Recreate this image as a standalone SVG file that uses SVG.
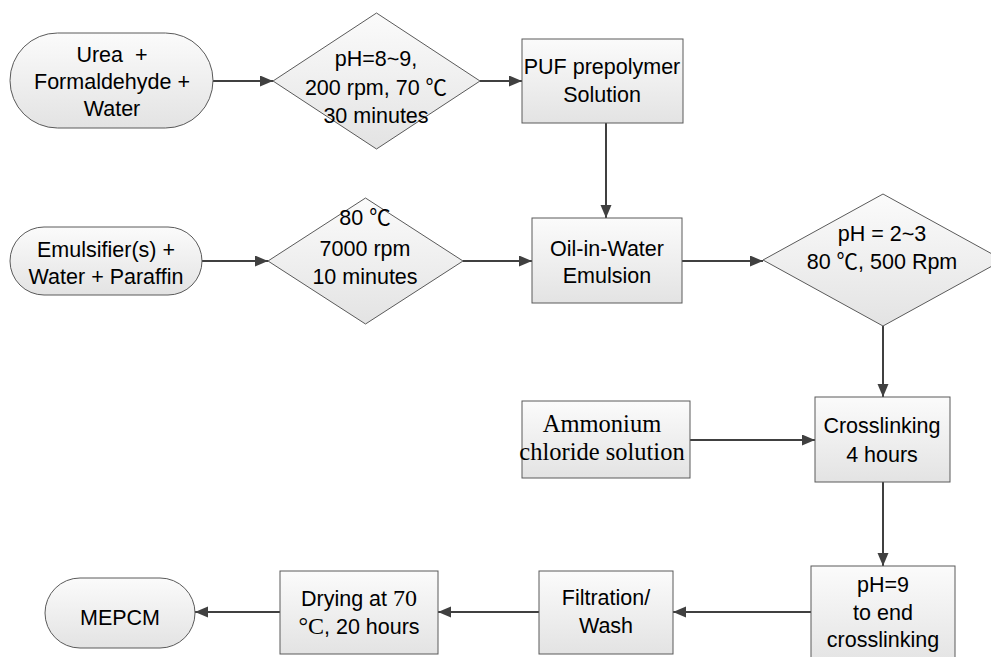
<svg xmlns="http://www.w3.org/2000/svg" width="991" height="657" viewBox="0 0 991 657">
<defs>
<linearGradient id="g" x1="0" y1="0" x2="0" y2="1">
<stop offset="0" stop-color="#fbfbfb"/>
<stop offset="1" stop-color="#e3e3e3"/>
</linearGradient>
<marker id="ah" markerUnits="userSpaceOnUse" markerWidth="14" markerHeight="12" refX="13" refY="5.5" orient="auto">
<path d="M0,0 L13,5.5 L0,11 z" fill="#404040"/>
</marker>
</defs>
<style>
.s{fill:url(#g);stroke:#5a5a5a;stroke-width:1}
.t{font-family:"Liberation Sans","Noto Sans CJK SC",sans-serif;font-size:21.5px;fill:#000;text-anchor:middle}
.r{font-family:"Liberation Serif","Noto Serif CJK SC",serif}
.c{stroke:#404040;stroke-width:2;fill:none;marker-end:url(#ah)}
</style>
<rect width="991" height="657" fill="#fff"/>
<g id="connectors">
<line class="c" x1="213" y1="81" x2="273" y2="81"/>
<line class="c" x1="480" y1="81" x2="522" y2="81"/>
<line class="c" x1="606" y1="123" x2="606" y2="218"/>
<line class="c" x1="202" y1="261" x2="268" y2="261"/>
<line class="c" x1="463" y1="261" x2="532" y2="261"/>
<line class="c" x1="682" y1="261" x2="763" y2="261"/>
<line class="c" x1="883" y1="326" x2="883" y2="397"/>
<line class="c" x1="690" y1="440" x2="815" y2="440"/>
<line class="c" x1="883" y1="482" x2="883" y2="566"/>
<line class="c" x1="811" y1="612" x2="673" y2="612"/>
<line class="c" x1="539" y1="612" x2="438" y2="612"/>
<line class="c" x1="280" y1="612" x2="195" y2="612"/>
</g>
<g id="urea">
<rect class="s" x="10" y="33" width="203" height="95" rx="47.5" ry="47.5"/>
<text class="t" x="112" y="62" xml:space="preserve">Urea  +</text>
<text class="t" x="112" y="89">Formaldehyde +</text>
<text class="t" x="112" y="116">Water</text>
</g>
<g id="cond1">
<polygon class="s" points="376.5,13 480,81 376.5,149 273,81"/>
<text class="t" x="376" y="66">pH=8~9,</text>
<text class="t" x="376" y="95">200 rpm, 70 ℃</text>
<text class="t" x="376" y="123">30 minutes</text>
</g>
<g id="puf">
<rect class="s" x="522" y="39" width="161" height="84"/>
<text class="t" x="602" y="74">PUF prepolymer</text>
<text class="t" x="602" y="102">Solution</text>
</g>
<g id="emulsifier">
<rect class="s" x="10" y="227" width="192" height="68" rx="34" ry="34"/>
<text class="t" x="106" y="257">Emulsifier(s) +</text>
<text class="t" x="106" y="284">Water + Paraffin</text>
</g>
<g id="cond2">
<polygon class="s" points="365.5,198 463,261 365.5,324 268,261"/>
<text class="t" x="365" y="225">80 ℃</text>
<text class="t" x="365" y="256">7000 rpm</text>
<text class="t" x="365" y="284">10 minutes</text>
</g>
<g id="emulsion">
<rect class="s" x="532" y="218" width="150" height="85"/>
<text class="t" x="607" y="256">Oil-in-Water</text>
<text class="t" x="607" y="283">Emulsion</text>
</g>
<g id="cond3">
<polygon class="s" points="883,194 1003,260 883,326 763,260"/>
<text class="t" x="882" y="241">pH = 2~3</text>
<text class="t" x="882" y="269">80 ℃, 500 Rpm</text>
</g>
<g id="ammonium">
<rect class="s" x="522" y="401" width="168" height="77"/>
<text class="t r" x="602" y="432" style="font-size:24.5px">Ammonium</text>
<text class="t r" x="602" y="460" style="font-size:24.5px">chloride solution</text>
</g>
<g id="crosslinking">
<rect class="s" x="815" y="397" width="135" height="85"/>
<text class="t" x="882" y="433">Crosslinking</text>
<text class="t" x="882" y="462">4 hours</text>
</g>
<g id="ph9">
<rect class="s" x="811" y="566" width="144" height="100"/>
<text class="t" x="883" y="592">pH=9</text>
<text class="t" x="883" y="620">to end</text>
<text class="t" x="883" y="647">crosslinking</text>
</g>
<g id="filtration">
<rect class="s" x="539" y="571" width="134" height="83"/>
<text class="t" x="606" y="605">Filtration/</text>
<text class="t" x="606" y="633">Wash</text>
</g>
<g id="drying">
<rect class="s" x="280" y="571" width="158" height="83"/>
<text class="t" x="359" y="606">Drying at <tspan class="r" style="font-size:24px">70</tspan></text>
<text class="t" x="359" y="634"><tspan class="r" style="font-size:24px">°C</tspan>, 20 hours</text>
</g>
<g id="mepcm">
<rect class="s" x="45" y="578" width="150" height="70" rx="35" ry="35"/>
<text class="t" x="120" y="625">MEPCM</text>
</g>
</svg>
